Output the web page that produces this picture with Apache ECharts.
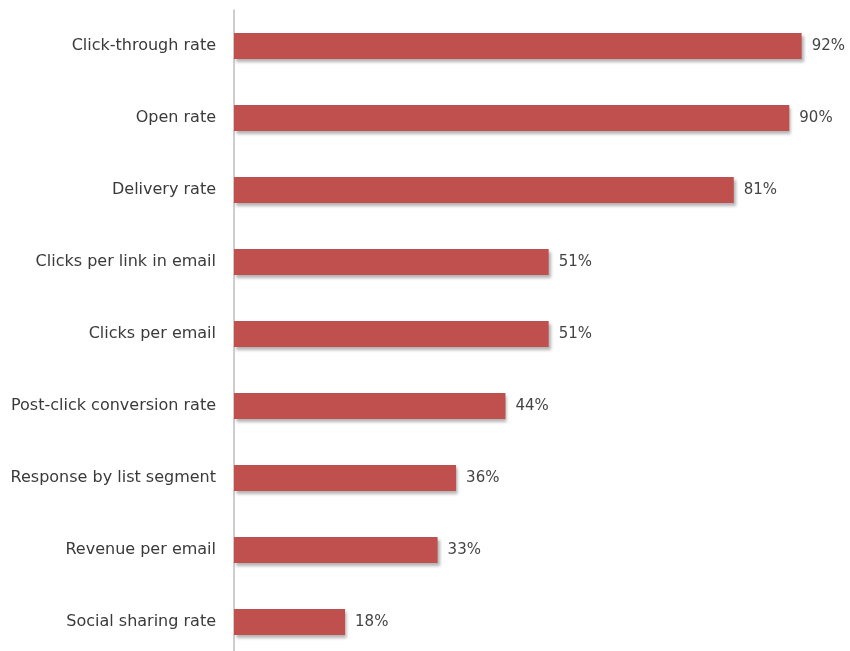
<!DOCTYPE html>
<html><head><meta charset="utf-8">
<script src="https://cdn.jsdelivr.net/npm/echarts@6/dist/echarts.min.js"></script>
<style>html,body{margin:0;padding:0;background:#fff}#c{width:850px;height:651px}</style>
</head><body><div id="c"></div>
<script>
const categories = ["Click-through rate","Open rate","Delivery rate","Clicks per link in email","Clicks per email","Post-click conversion rate","Response by list segment","Revenue per email","Social sharing rate"];
const values = [92,90,81,51,51,44,36,33,18];
const chart = echarts.init(document.getElementById('c'));
chart.setOption({
  animation:false,
  grid:{left:234,right:-1,top:10,height:648,containLabel:false,outerBoundsMode:'none'},
  xAxis:{type:'value',min:0,max:100,show:false},
  yAxis:{type:'category',data:categories,inverse:true,
    axisLine:{show:true,lineStyle:{color:'#bdbdbd',width:1.5}},
    axisTick:{show:false},
    axisLabel:{margin:18,color:'#3a3a3a',fontSize:16,fontFamily:'"DejaVu Sans", "Liberation Sans", sans-serif'}},
  series:[{type:'bar',data:values,barWidth:26,
    itemStyle:{color:'#c0504d',shadowColor:'rgba(0,0,0,0.3)',shadowBlur:3,shadowOffsetX:2,shadowOffsetY:3},
    label:{show:true,position:'right',distance:10,formatter:'{c}%',color:'#444',fontSize:15,fontFamily:'"DejaVu Sans", "Liberation Sans", sans-serif'}}]
});
</script></body></html>
